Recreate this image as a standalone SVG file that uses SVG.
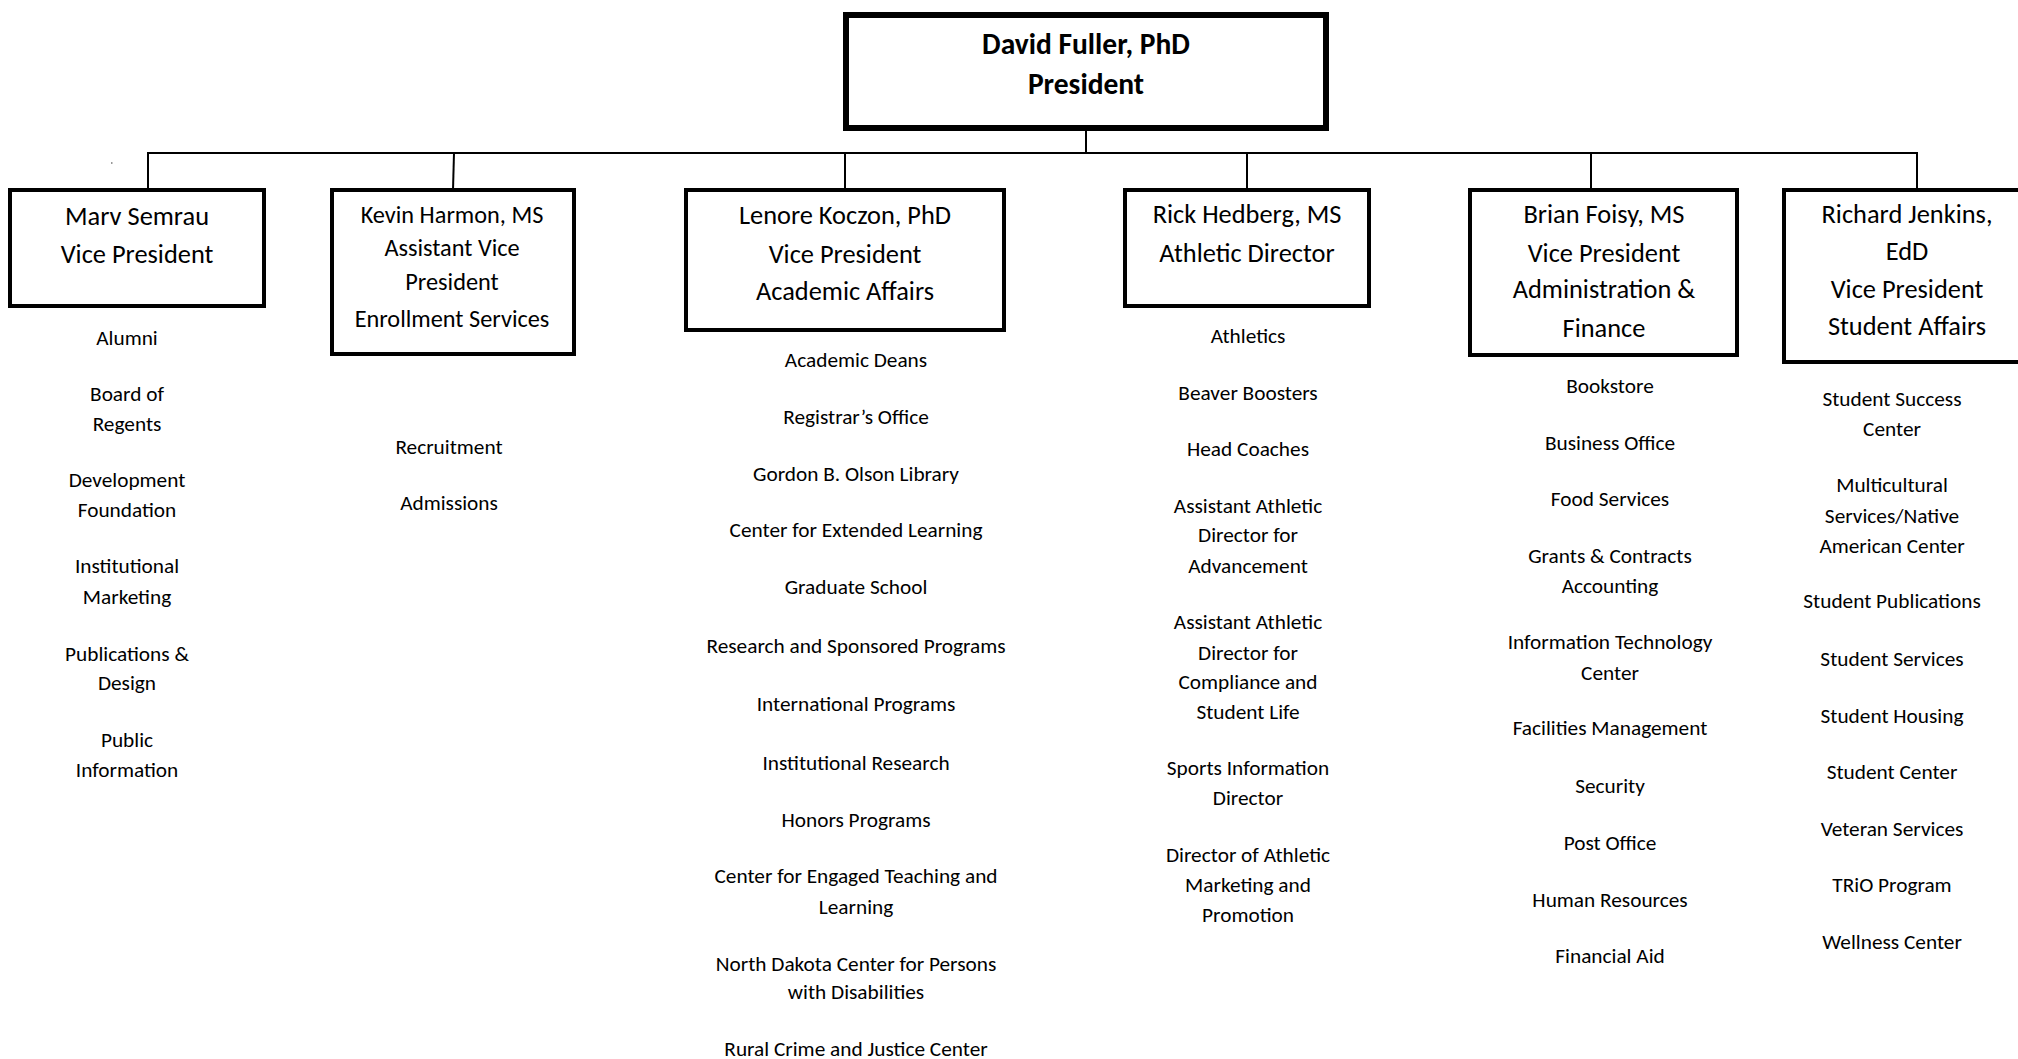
<svg xmlns="http://www.w3.org/2000/svg" width="2018" height="1059" viewBox="0 0 2018 1059">
<style>
.bg{fill:#fff}
.box{fill:#fff;stroke:#000;stroke-width:4}
.pbox{fill:#fff;stroke:#000;stroke-width:6}
.ln{stroke:#000;stroke-width:2;fill:none}
text{font-family:Carlito,Lato,"Liberation Sans",sans-serif;fill:#000;text-anchor:middle}
.t{font-size:26.4px}
.ts{font-size:24.3px}
.p{font-size:29.5px;font-weight:bold}
.i{font-size:21.3px}
</style>
<rect class="bg" x="0" y="0" width="2018" height="1059"/>
<g id="connectors">
<line class="ln" x1="1086" y1="128" x2="1086" y2="153"/>
<line class="ln" x1="147" y1="153" x2="1918" y2="153"/>
<line class="ln" x1="148" y1="153" x2="148" y2="190"/>
<line class="ln" x1="454" y1="153" x2="453" y2="190"/>
<line class="ln" x1="845" y1="153" x2="845" y2="190"/>
<line class="ln" x1="1247" y1="153" x2="1247" y2="190"/>
<line class="ln" x1="1591" y1="153" x2="1591" y2="190"/>
<line class="ln" x1="1917" y1="153" x2="1917" y2="190"/>
</g>
<rect x="111" y="162" width="1.5" height="2" fill="#999"/>
<g id="president">
<rect class="pbox" x="846" y="15" width="480" height="113"/>
<text class="p" x="1086" y="54">David Fuller, PhD</text>
<text class="p" x="1086" y="94">President</text>
</g>
<g id="vp-semrau">
<rect class="box" x="10" y="190" width="254" height="116"/>
<text class="t" x="137" y="225">Marv Semrau</text>
<text class="t" x="137" y="263">Vice President</text>
<text class="i" x="127" y="345">Alumni</text>
<text class="i" x="127" y="401">Board of</text>
<text class="i" x="127" y="431">Regents</text>
<text class="i" x="127" y="487">Development</text>
<text class="i" x="127" y="517">Foundation</text>
<text class="i" x="127" y="573">Institutional</text>
<text class="i" x="127" y="604">Marketing</text>
<text class="i" x="127" y="661">Publications &amp;</text>
<text class="i" x="127" y="690">Design</text>
<text class="i" x="127" y="747">Public</text>
<text class="i" x="127" y="777">Information</text>
</g>
<g id="vp-harmon">
<rect class="box" x="332" y="190" width="242" height="164"/>
<text class="ts" x="452" y="223">Kevin Harmon, MS</text>
<text class="ts" x="452" y="256">Assistant Vice</text>
<text class="ts" x="452" y="290">President</text>
<text class="ts" x="452" y="327">Enrollment Services</text>
<text class="i" x="449" y="454">Recruitment</text>
<text class="i" x="449" y="510">Admissions</text>
</g>
<g id="vp-koczon">
<rect class="box" x="686" y="190" width="318" height="140"/>
<text class="t" x="845" y="224">Lenore Koczon, PhD</text>
<text class="t" x="845" y="263">Vice President</text>
<text class="t" x="845" y="300">Academic Affairs</text>
<text class="i" x="856" y="367">Academic Deans</text>
<text class="i" x="856" y="424">Registrar’s Office</text>
<text class="i" x="856" y="481">Gordon B. Olson Library</text>
<text class="i" x="856" y="537">Center for Extended Learning</text>
<text class="i" x="856" y="594">Graduate School</text>
<text class="i" x="856" y="653">Research and Sponsored Programs</text>
<text class="i" x="856" y="711">International Programs</text>
<text class="i" x="856" y="770">Institutional Research</text>
<text class="i" x="856" y="827">Honors Programs</text>
<text class="i" x="856" y="883">Center for Engaged Teaching and</text>
<text class="i" x="856" y="914">Learning</text>
<text class="i" x="856" y="971">North Dakota Center for Persons</text>
<text class="i" x="856" y="999">with Disabilities</text>
<text class="i" x="856" y="1056">Rural Crime and Justice Center</text>
</g>
<g id="ad-hedberg">
<rect class="box" x="1125" y="190" width="244" height="116"/>
<text class="t" x="1247" y="223">Rick Hedberg, MS</text>
<text class="t" x="1247" y="262">Athletic Director</text>
<text class="i" x="1248" y="343">Athletics</text>
<text class="i" x="1248" y="400">Beaver Boosters</text>
<text class="i" x="1248" y="456">Head Coaches</text>
<text class="i" x="1248" y="513">Assistant Athletic</text>
<text class="i" x="1248" y="542">Director for</text>
<text class="i" x="1248" y="573">Advancement</text>
<text class="i" x="1248" y="629">Assistant Athletic</text>
<text class="i" x="1248" y="660">Director for</text>
<text class="i" x="1248" y="689">Compliance and</text>
<text class="i" x="1248" y="719">Student Life</text>
<text class="i" x="1248" y="775">Sports Information</text>
<text class="i" x="1248" y="805">Director</text>
<text class="i" x="1248" y="862">Director of Athletic</text>
<text class="i" x="1248" y="892">Marketing and</text>
<text class="i" x="1248" y="922">Promotion</text>
</g>
<g id="vp-foisy">
<rect class="box" x="1470" y="190" width="267" height="165"/>
<text class="t" x="1604" y="223">Brian Foisy, MS</text>
<text class="t" x="1604" y="262">Vice President</text>
<text class="t" x="1604" y="298">Administration &amp;</text>
<text class="t" x="1604" y="337">Finance</text>
<text class="i" x="1610" y="393">Bookstore</text>
<text class="i" x="1610" y="450">Business Office</text>
<text class="i" x="1610" y="506">Food Services</text>
<text class="i" x="1610" y="563">Grants &amp; Contracts</text>
<text class="i" x="1610" y="593">Accounting</text>
<text class="i" x="1610" y="649">Information Technology</text>
<text class="i" x="1610" y="680">Center</text>
<text class="i" x="1610" y="735">Facilities Management</text>
<text class="i" x="1610" y="793">Security</text>
<text class="i" x="1610" y="850">Post Office</text>
<text class="i" x="1610" y="907">Human Resources</text>
<text class="i" x="1610" y="963">Financial Aid</text>
</g>
<g id="vp-jenkins">
<rect class="box" x="1784" y="190" width="246" height="172"/>
<text class="t" x="1907" y="223">Richard Jenkins,</text>
<text class="t" x="1907" y="260">EdD</text>
<text class="t" x="1907" y="298">Vice President</text>
<text class="t" x="1907" y="335">Student Affairs</text>
<text class="i" x="1892" y="406">Student Success</text>
<text class="i" x="1892" y="436">Center</text>
<text class="i" x="1892" y="492">Multicultural</text>
<text class="i" x="1892" y="523">Services/Native</text>
<text class="i" x="1892" y="553">American Center</text>
<text class="i" x="1892" y="608">Student Publications</text>
<text class="i" x="1892" y="666">Student Services</text>
<text class="i" x="1892" y="723">Student Housing</text>
<text class="i" x="1892" y="779">Student Center</text>
<text class="i" x="1892" y="836">Veteran Services</text>
<text class="i" x="1892" y="892">TRiO Program</text>
<text class="i" x="1892" y="949">Wellness Center</text>
</g>
</svg>
